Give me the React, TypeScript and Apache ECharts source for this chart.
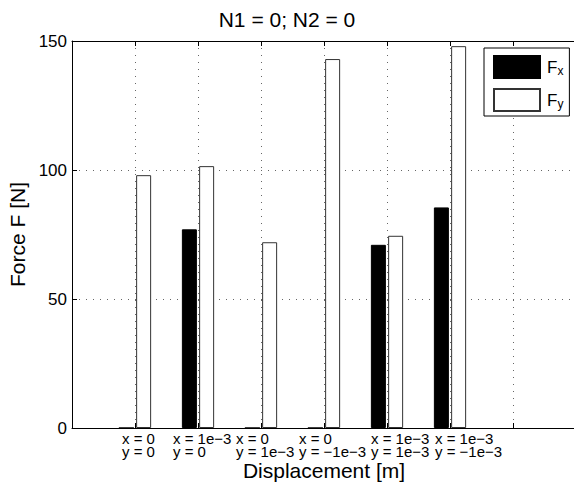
import React, { useEffect, useRef } from 'react';
import * as echarts from 'echarts';

const titleText = 'N1 = 0; N2 = 0';
const xName = 'Displacement [m]';
const yName = 'Force F [N]';
const seriesNames = ['Fx', 'Fy'];
const positions = [1, 2, 3, 4, 5, 6];
const xLines = ['x = 0', 'x = 1e−3', 'x = 0', 'x = 0', 'x = 1e−3', 'x = 1e−3'];
const yLines = ['y = 0', 'y = 0', 'y = 1e−3', 'y = −1e−3', 'y = 1e−3', 'y = −1e−3'];
const fxValues = [0, 77, 0, 0, 71, 85.5];
const fyValues = [98, 101.5, 72, 143, 74.5, 148];
const xMin = 0;
const xMax = 8;
const xStep = 1;
const yMin = 0;
const yMax = 150;
const yStep = 50;

// styling: how far each multi-line label starts left of its tick (px)
const labelShift = [13, 25, 25, 25, 16, 15];

const FONT = '"Liberation Sans", Arial, Helvetica, sans-serif';

function buildOption() {
  const rich: Record<string, any> = {};
  labelShift.forEach((s, i) => {
    rich['l' + i] = {
      width: 2 * s,
      align: 'left',
      fontSize: 15,
      lineHeight: 13,
      fontFamily: FONT,
      color: '#000',
    };
  });
  const gridLine = { show: true, lineStyle: { color: '#666', width: 1, type: [1, 6] } };
  return {
    animation: false,
    backgroundColor: '#fff',
    textStyle: { fontFamily: FONT, color: '#000' },
    title: {
      text: titleText,
      left: 'center',
      top: 0,
      padding: [9, 0, 0, 74],
      textStyle: { fontSize: 21, fontWeight: 'normal', color: '#000', fontFamily: FONT },
    },
    legend: {
      data: seriesNames,
      orient: 'vertical',
      left: 484,
      top: 48,
      padding: [7, 6, 4, 9],
      itemWidth: 46,
      itemHeight: 22,
      itemGap: 9,
      icon: 'rect',
      borderColor: '#000',
      borderWidth: 1,
      backgroundColor: '#fff',
      borderRadius: 0,
      selectedMode: false,
      formatter: (name: string) => `{f|F}{s|${name.slice(1)}}`,
      textStyle: {
        color: '#000',
        fontFamily: FONT,
        rich: {
          f: { fontSize: 17, lineHeight: 20, padding: [0, 0, 0, 2], fontFamily: FONT, color: '#000' },
          s: { fontSize: 12, lineHeight: 3, verticalAlign: 'bottom', fontFamily: FONT, color: '#000' },
        },
      },
    },
    grid: {
      left: 72,
      top: 41,
      width: 504,
      height: 387,
      containLabel: false,
      outerBoundsMode: 'none',
    },
    xAxis: [
      {
        type: 'value',
        min: xMin,
        max: xMax,
        interval: xStep,
        name: xName,
        nameLocation: 'middle',
        nameGap: 32,
        nameMoveOverlap: false,
        nameTextStyle: { fontSize: 21, color: '#000', fontFamily: FONT },
        axisLine: { show: true, lineStyle: { color: '#000', width: 1 } },
        axisTick: { show: true, inside: true, length: 5, lineStyle: { color: '#000' } },
        axisLabel: {
          show: true,
          margin: 4,
          showMinLabel: true,
          showMaxLabel: true,
          formatter: (v: number) => {
            const i = positions.indexOf(v);
            if (i < 0) return '';
            return `{l${i}|${xLines[i]}}\n{l${i}|${yLines[i]}}`;
          },
          rich,
        },
        splitLine: gridLine,
      },
      {
        type: 'value',
        position: 'top',
        min: xMin,
        max: xMax,
        interval: xStep,
        axisLine: { show: true, lineStyle: { color: '#000', width: 1 } },
        axisTick: { show: true, inside: true, length: 5, lineStyle: { color: '#000' } },
        axisLabel: { show: false },
        splitLine: { show: false },
      },
    ],
    yAxis: {
      type: 'value',
      min: yMin,
      max: yMax,
      interval: yStep,
      name: yName,
      nameLocation: 'middle',
      nameGap: 44,
      nameMoveOverlap: false,
      nameTextStyle: { fontSize: 21, color: '#000', fontFamily: FONT },
      axisLine: { show: true, lineStyle: { color: '#000', width: 1 } },
      axisTick: { show: true, inside: true, length: 5, lineStyle: { color: '#000' } },
      axisLabel: { fontSize: 17, color: '#000', margin: 5, fontFamily: FONT },
      splitLine: gridLine,
    },
    series: [
      {
        name: seriesNames[0],
        type: 'bar',
        xAxisIndex: 0,
        barWidth: 15,
        barGap: '15%',
        data: positions.map((p, i) => [p, fxValues[i]]),
        itemStyle: { color: '#000', borderColor: '#000', borderWidth: 1 },
      },
      {
        name: seriesNames[1],
        type: 'bar',
        xAxisIndex: 0,
        barWidth: 15,
        barGap: '15%',
        data: positions.map((p, i) => [p, fyValues[i]]),
        itemStyle: { color: '#fff', borderColor: '#333', borderWidth: 1 },
      },
    ],
  };
}

export default function App() {
  const ref = useRef<HTMLDivElement>(null);
  useEffect(() => {
    if (!ref.current) return;
    const chart = echarts.init(ref.current, null, { renderer: 'svg' });
    chart.setOption(buildOption() as any);
    return () => chart.dispose();
  }, []);
  return (
    <div
      ref={ref}
      style={{ position: 'fixed', left: 0, top: 0, width: 574, height: 483, background: '#fff' }}
    />
  );
}
